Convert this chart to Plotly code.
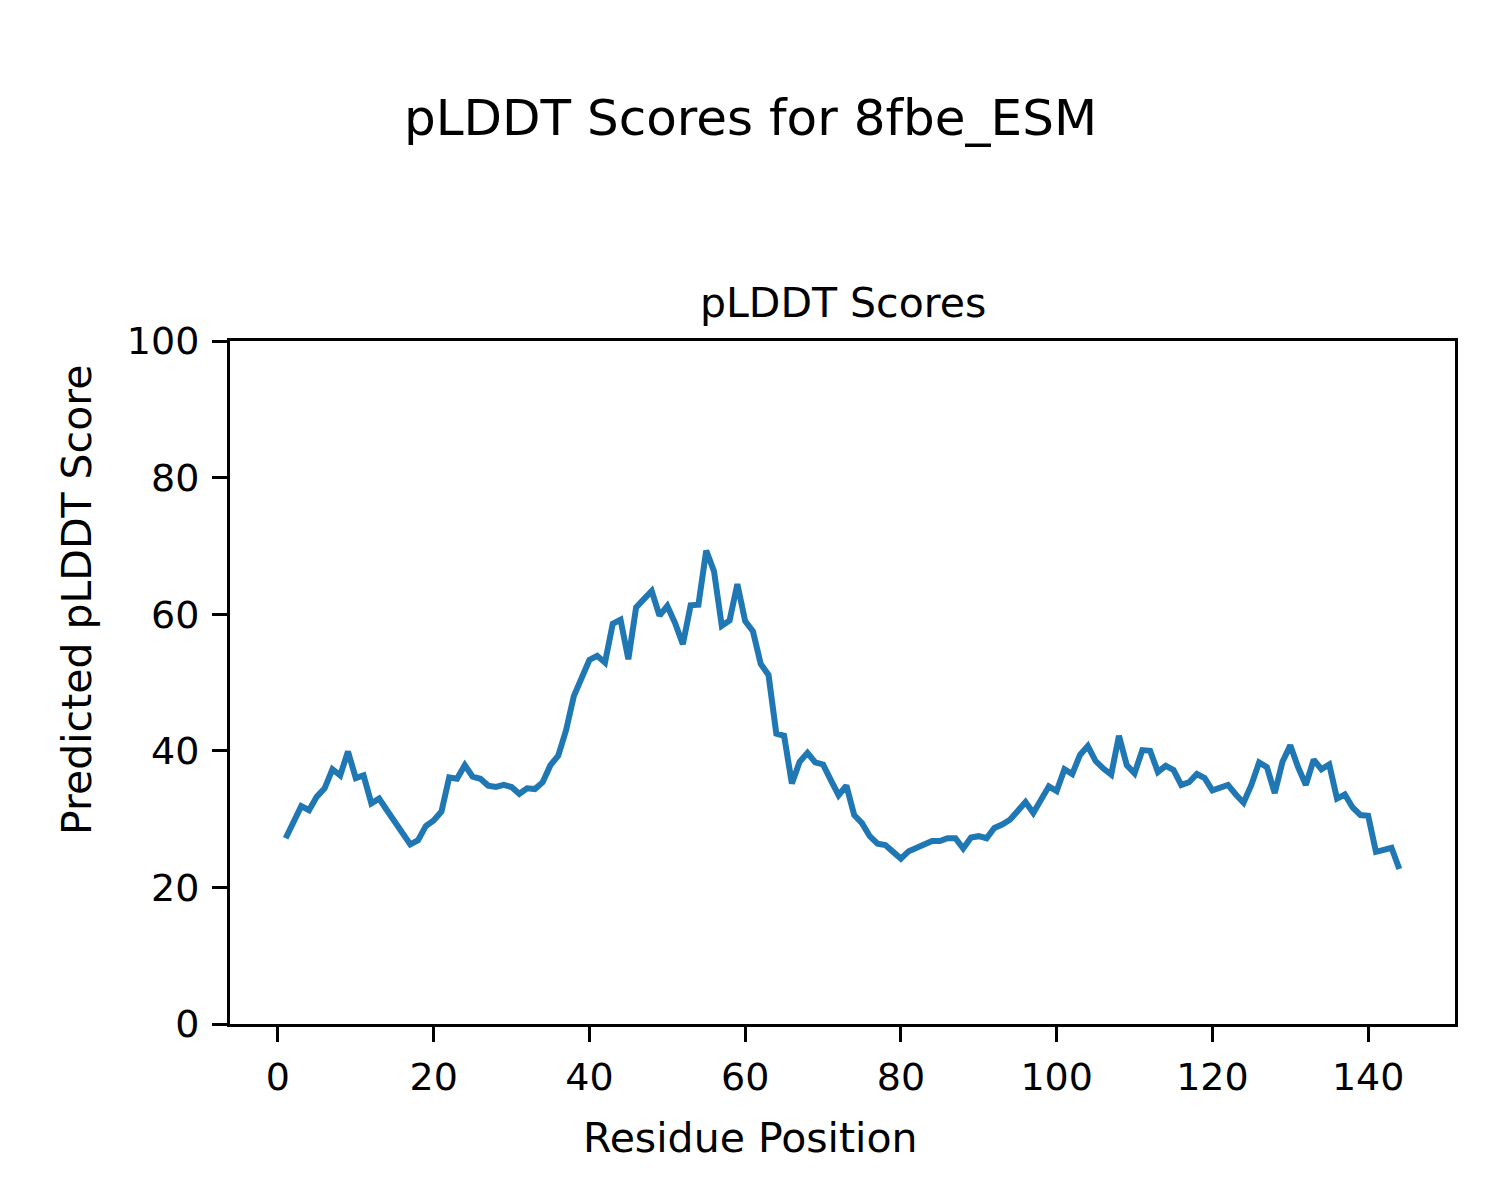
import plotly.graph_objects as go

residues = list(range(1, 145))
plddt = [
    27.2, 29.8, 31.9, 31.3, 33.3, 34.5, 37.3, 36.4, 39.9, 36.0,
    36.4, 32.3, 33.0, 31.3, 29.6, 28.1, 26.3, 26.9, 29.0, 29.8,
    31.1, 36.1, 35.9, 37.9, 36.2, 35.9, 34.9, 34.7, 35.0, 34.7,
    33.7, 34.5, 34.4, 35.4, 37.9, 39.3, 43.0, 48.0, 50.9, 53.3,
    53.9, 52.9, 58.6, 59.2, 53.4, 61.0, 62.2, 63.4, 59.8, 61.2,
    58.7, 55.6, 61.3, 61.4, 69.3, 66.3, 58.3, 59.1, 64.4, 59.0,
    57.5, 52.7, 51.1, 42.5, 42.2, 35.2, 38.4, 39.7, 38.3, 38.0,
    35.7, 33.5, 34.9, 30.6, 29.4, 27.5, 26.4, 26.2, 25.2, 24.2,
    25.3, 25.8, 26.5, 26.8, 26.8, 27.2, 27.2, 25.7, 27.3, 27.5,
    27.2, 28.7, 29.2, 29.9, 31.2, 32.5, 30.9, 32.8, 34.8, 34.1,
    37.3, 36.6, 39.4, 40.7, 38.5, 37.4, 36.5, 42.2, 37.9, 36.7,
    40.1, 40.0, 36.9, 37.8, 37.2, 35.0, 35.4, 36.6, 36.0, 34.2,
    34.6, 35.0, 33.6, 32.4, 35.0, 38.3, 37.6, 33.8, 38.4, 40.8,
    37.6, 35.0, 38.7, 37.3, 38.0, 33.0, 33.6, 31.7, 30.6, 30.5,
    25.2, 25.5, 25.8, 22.7,
]
x_ticks = [0, 20, 40, 60, 80, 100, 120, 140]
y_ticks = [0, 20, 40, 60, 80, 100]

FONT = "DejaVu Sans"

# page offset of the plotly div (body margin)
OFF = 8
L, T, R, B = 230 - OFF, 341 - OFF, 1455 - OFF, 1024 - OFF
PW, PH = R - L, B - T


def px(xp):
    return (xp - OFF - L) / PW


def py(yp):
    return (B - (yp - OFF)) / PH


fig = go.Figure()
fig.add_trace(go.Scatter(x=residues, y=plddt, mode="lines",
                         line=dict(color="#1f77b4", width=6), showlegend=False))

axis_common = dict(showline=True, linecolor="black", linewidth=3, mirror=True,
                   ticks="outside", ticklen=15, tickwidth=3, tickcolor="black",
                   showgrid=False, zeroline=False,
                   tickfont=dict(family=FONT, size=38, color="black"))

fig.update_xaxes(range=[-6.15, 151.15], tickvals=x_ticks, ticklabelstandoff=2, **axis_common)
fig.update_yaxes(range=[0, 100], tickvals=y_ticks, ticklabelstandoff=5, **axis_common)

fig.update_layout(
    width=1500, height=1200,
    margin=dict(l=L, r=1500 - R, t=T, b=1200 - B),
    plot_bgcolor="white", paper_bgcolor="white",
    font=dict(family=FONT, color="black"),
    annotations=[
        dict(text="pLDDT Scores for 8fbe_ESM", xref="paper", yref="paper",
             x=px(750), y=py(118), xanchor="center", yanchor="middle",
             showarrow=False, font=dict(family=FONT, size=50, color="black")),
        dict(text="pLDDT Scores", xref="paper", yref="paper",
             x=0.5, y=py(303), xanchor="center", yanchor="middle",
             showarrow=False, font=dict(family=FONT, size=41, color="black")),
        dict(text="Residue Position", xref="paper", yref="paper",
             x=px(750), y=py(1138), xanchor="center", yanchor="middle",
             showarrow=False, font=dict(family=FONT, size=41, color="black")),
        dict(text="Predicted pLDDT Score", xref="paper", yref="paper",
             x=px(77), y=py(600), xanchor="center", yanchor="middle",
             textangle=-90, showarrow=False, font=dict(family=FONT, size=41, color="black")),
    ],
)

fig.write_html("out.html")
